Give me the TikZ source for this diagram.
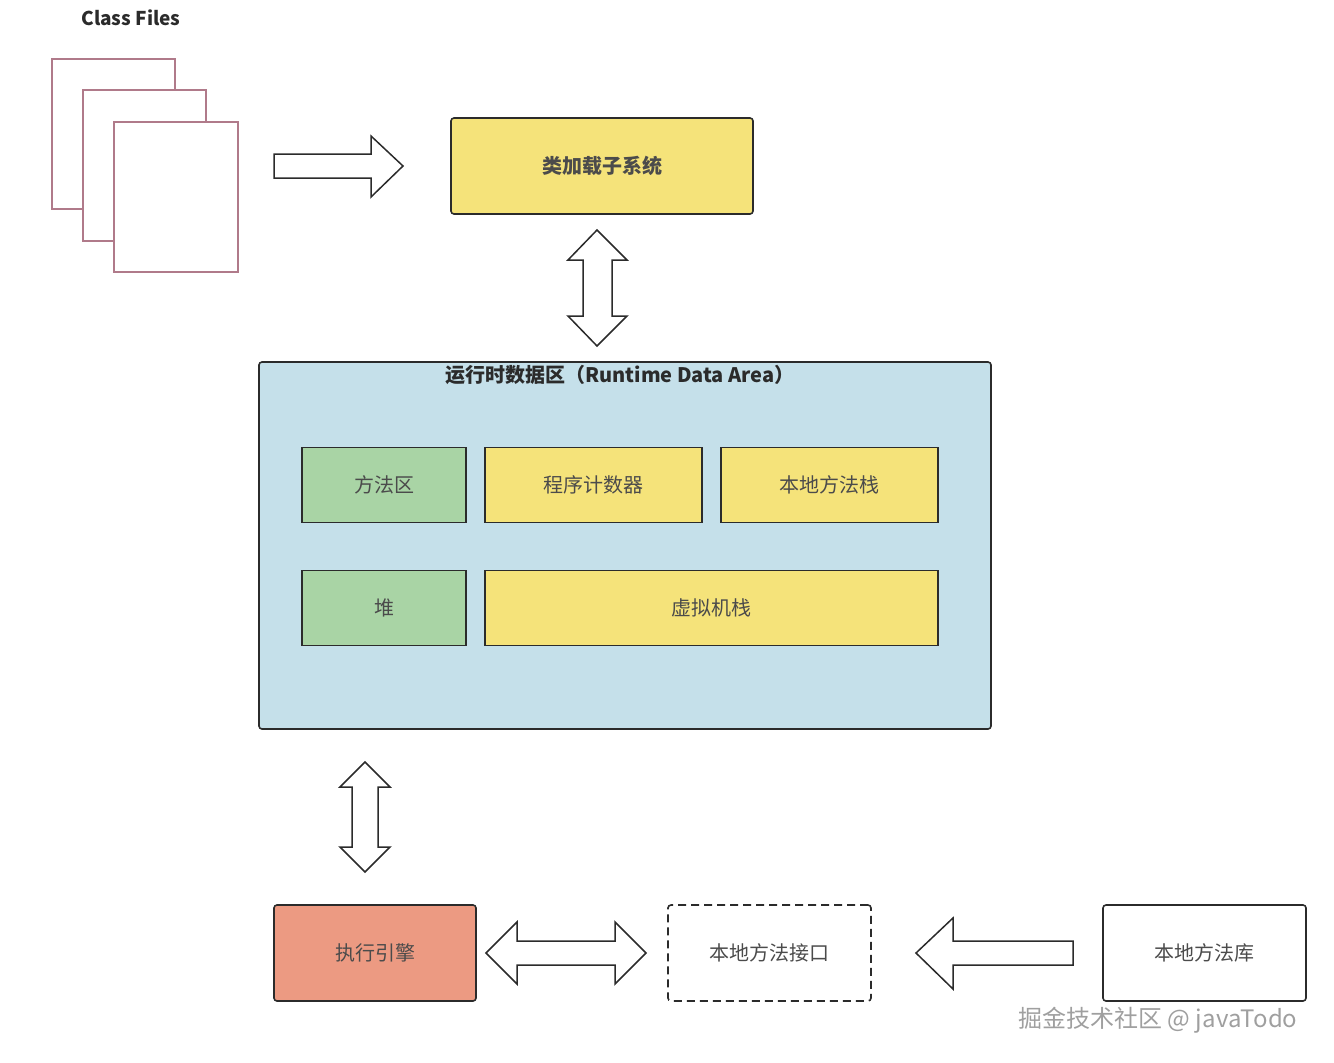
\documentclass[tikz,border=0pt]{standalone}
\usepackage{fontspec}
\setmainfont{Noto Sans CJK SC}
\usetikzlibrary{calc}
\definecolor{color_page}{HTML}{b07a8a}
\definecolor{color_yellow}{HTML}{f5e37a}
\definecolor{color_green}{HTML}{a9d4a5}
\definecolor{color_blue}{HTML}{c5e0ea}
\definecolor{color_red}{HTML}{ec9a82}
\definecolor{color_line}{HTML}{2b2b2b}
\tikzset{
  box/.style={draw=color_line,line width=1.6pt,text=color_line!85,font=\fontsize{20}{23}\selectfont},
  page/.style={draw=color_page,line width=1.5pt,fill=white},
  blockarrow/.style={draw=color_line,line width=1.5pt,fill=white,line join=miter},
}
\begin{document}
\begin{tikzpicture}[x=1pt,y=-1pt]
				\useasboundingbox (0,0) rectangle (1334,1063);
				% Class files
				\node[font=\bfseries\fontsize{19}{22}\selectfont,color_line] (cf) at (131,18) {Class Files};
				\draw[page] (52,59) rectangle (175,209);
				\draw[page] (83,90) rectangle (206,241);
				\draw[page] (114,122) rectangle (238,272);
		
				% Boxes
				\node[box,fill=color_yellow,rounded corners=3pt,minimum width=302pt,minimum height=96pt,font=\bfseries\fontsize{20}{23}\selectfont] (loader) at (602,166) {类加载子系统};
				\draw[box,fill=color_blue,rounded corners=3pt] (259,362) rectangle (991,729);
				\node[font=\bfseries\fontsize{20}{23}\selectfont,color_line] (rda) at (620,375) {运行时数据区（Runtime Data Area）};
				\node[box,fill=color_green,minimum width=164pt,minimum height=75pt] (method) at (384,485) {方法区};
				\node[box,fill=color_yellow,minimum width=217pt,minimum height=75pt] (pc) at (593.5,485) {程序计数器};
				\node[box,fill=color_yellow,minimum width=217pt,minimum height=75pt] (nstack) at (829.5,485) {本地方法栈};
				\node[box,fill=color_green,minimum width=164pt,minimum height=75pt] (heap) at (384,608) {堆};
				\node[box,fill=color_yellow,minimum width=453pt,minimum height=75pt] (vstack) at (711.5,608) {虚拟机栈};
				\node[box,fill=color_red,rounded corners=3pt,minimum width=202pt,minimum height=96pt] (engine) at (375,953) {执行引擎};
				\node[box,dash pattern=on 8pt off 5pt,rounded corners=3pt,minimum width=203pt,minimum height=96pt] (nif) at (769.5,953) {本地方法接口};
				\node[box,rounded corners=3pt,minimum width=203pt,minimum height=96pt] (nlib) at (1204.5,953) {本地方法库};
		
				% Block arrows
				\draw[blockarrow] (274,154) -- (371,154) -- (371,136) -- (403,166) -- (371,197) -- (371,178) -- (274,178) -- cycle;
				\draw[blockarrow] (597,230) -- (627,260) -- (612,260) -- (612,316) -- (627,316) -- (597,346)
					-- (568,316) -- (583,316) -- (583,260) -- (568,260) -- cycle;
				\draw[blockarrow] (365,762) -- (390,787) -- (378,787) -- (378,847) -- (390,847) -- (365,872)
					-- (340,847) -- (352,847) -- (352,787) -- (340,787) -- cycle;
				\draw[blockarrow] (486,953) -- (517,922) -- (517,941) -- (615,941) -- (615,922) -- (646,953)
					-- (615,984) -- (615,965) -- (517,965) -- (517,984) -- cycle;
				\draw[blockarrow] (916,953) -- (953,918) -- (953,941) -- (1073,941) -- (1073,965) -- (953,965) -- (953,989) -- cycle;
		
				% Watermark
				\node[font=\fontsize{24}{27}\selectfont,text=gray!75] (wm) at (1158,1020) {掘金技术社区 @ javaTodo};
			\end{tikzpicture}
\end{document}
